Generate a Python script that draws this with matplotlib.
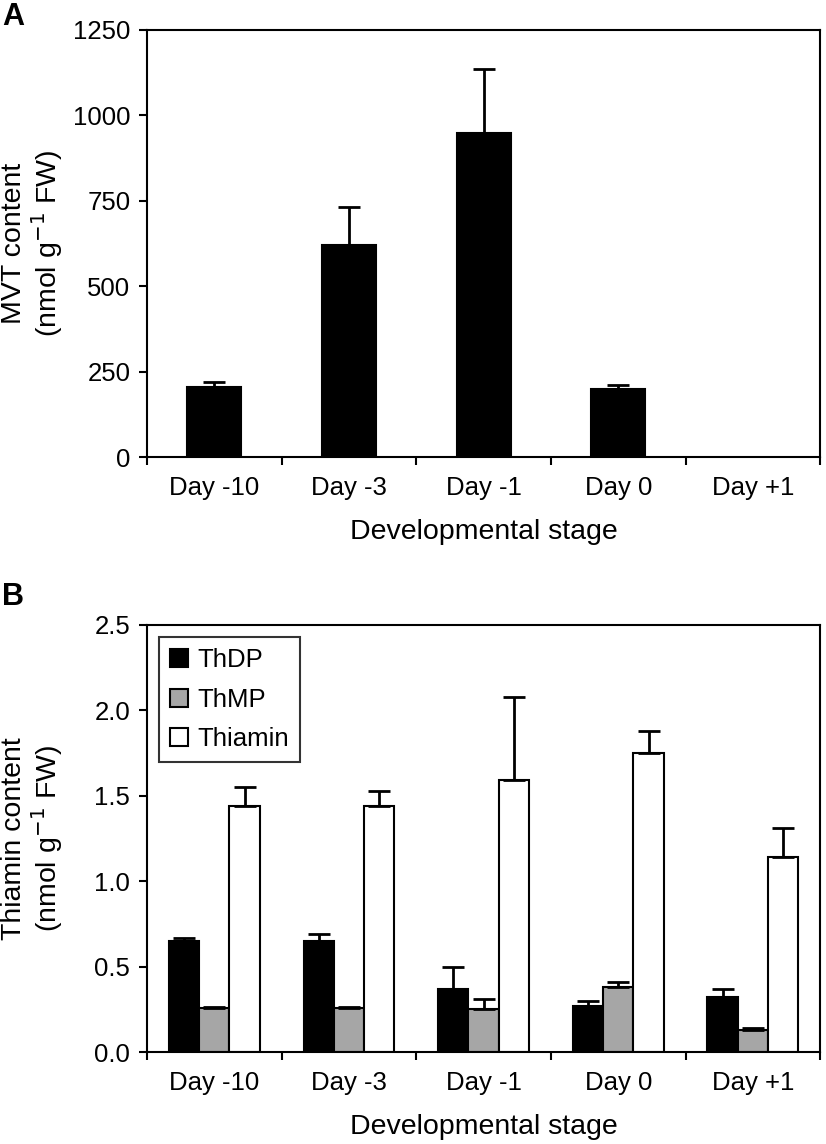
import numpy as np
import matplotlib.pyplot as plt

plt.rcParams['font.family'] = ['Liberation Sans', 'DejaVu Sans']

stages = ['Day -10', 'Day -3', 'Day -1', 'Day 0', 'Day +1']

# panel A: MVT content (Day +1 not shown in the original)
mvt = [205, 620, 948, 200, np.nan]
mvt_err = [15, 112, 188, 12, np.nan]

# panel B: thiamin vitamers
thdp = [0.65, 0.65, 0.37, 0.27, 0.32]
thdp_err = [0.02, 0.04, 0.13, 0.03, 0.05]
thmp = [0.26, 0.26, 0.25, 0.38, 0.13]
thmp_err = [0.005, 0.005, 0.06, 0.03, 0.01]
thiamin = [1.44, 1.44, 1.59, 1.75, 1.14]
thiamin_err = [0.11, 0.09, 0.49, 0.13, 0.17]

fig = plt.figure(figsize=(8.26, 11.44), dpi=100)
axA = fig.add_axes([0.178, 0.6005, 0.815, 0.3735])
axB = fig.add_axes([0.178, 0.0804, 0.815, 0.3733])

x = np.arange(len(stages))
lw = 1.5
ekw = dict(elinewidth=2, capthick=2, ecolor='black')
tick_fs = 18.5
lab_fs = 20.5


def style_axis(ax):
    for s in ax.spines.values():
        s.set_linewidth(lw)
    ax.set_xlim(-0.5, len(stages) - 0.5)
    # tick marks between categories, labels at centres
    ax.set_xticks(np.arange(-0.5, len(stages), 1.0))
    ax.set_xticklabels([])
    ax.set_xticks(x, minor=True)
    ax.set_xticklabels(stages, minor=True)
    ax.tick_params(axis='x', which='major', direction='out', length=6, width=lw)
    ax.tick_params(axis='x', which='minor', length=0, pad=14, labelsize=tick_fs)
    ax.tick_params(axis='y', direction='out', length=6, width=lw, pad=6, labelsize=tick_fs)
    ax.set_xlabel('Developmental stage', fontsize=lab_fs, labelpad=13)


# A
axA.bar(x, mvt, width=0.4, color='black', edgecolor='black', linewidth=lw)
axA.errorbar(x, mvt, yerr=[np.zeros(len(mvt)), mvt_err], fmt='none', capsize=8, **ekw)
axA.set_ylim(0, 1250)
axA.set_yticks([0, 250, 500, 750, 1000, 1250])
style_axis(axA)

# B
w = 0.225
axB.bar(x - w, thdp, width=w, color='black', edgecolor='black', linewidth=lw, label='ThDP')
axB.bar(x, thmp, width=w, color='#a6a6a6', edgecolor='black', linewidth=lw, label='ThMP')
axB.bar(x + w, thiamin, width=w, color='white', edgecolor='black', linewidth=lw, label='Thiamin')
for off, v, e in [(-w, thdp, thdp_err), (0, thmp, thmp_err), (w, thiamin, thiamin_err)]:
    axB.errorbar(x + off, v, yerr=[np.zeros(len(v)), e], fmt='none', capsize=8, **ekw)
axB.set_ylim(0, 2.5)
axB.set_yticks([0, 0.5, 1.0, 1.5, 2.0, 2.5])
axB.set_yticklabels(['0.0', '0.5', '1.0', '1.5', '2.0', '2.5'])
style_axis(axB)

leg = axB.legend(loc='upper left', fontsize=tick_fs, frameon=True, fancybox=False,
                 handlelength=0.7, handleheight=0.7, handletextpad=0.35,
                 labelspacing=0.6, borderaxespad=0.45, borderpad=0.45)
leg.get_frame().set_edgecolor('black')
leg.get_frame().set_linewidth(lw)

fig.text(0.04, 0.787, 'MVT content\n(nmol g$^{-1}$ FW)', rotation=90,
         ha='center', va='center', fontsize=lab_fs, multialignment='center',
         linespacing=1.05)
fig.text(0.04, 0.267, 'Thiamin content\n(nmol g$^{-1}$ FW)', rotation=90,
         ha='center', va='center', fontsize=lab_fs, multialignment='center',
         linespacing=1.05)

fig.text(0.003, 0.985, 'A', fontsize=22, fontweight='bold', va='center')
fig.text(0.003, 0.478, 'B', fontsize=22, fontweight='bold', va='center')

fig.savefig('out.png', dpi=100)
